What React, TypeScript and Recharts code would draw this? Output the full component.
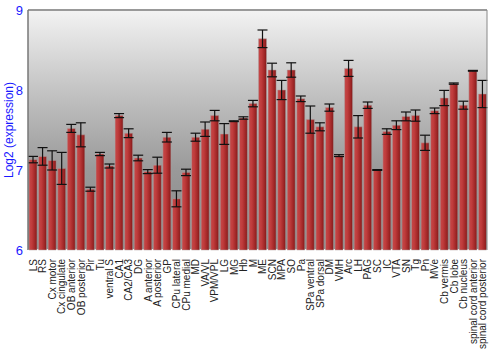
import {
  Bar,
  BarChart,
  CartesianGrid,
  ErrorBar,
  ReferenceLine,
  XAxis,
  YAxis,
} from "recharts";

const regions = [
  "LS", "RS", "Cx motor", "Cx cingulate", "OB anterior", "OB posterior", "Pir", "Tu",
  "ventral S", "CA1", "CA2/CA3", "DG", "A anterior", "A posterior", "GP", "CPu lateral",
  "CPu medial", "MD", "VA/VL", "VPM/VPL", "LG", "MG", "Hb", "M",
  "ME", "SCN", "MPA", "SO", "Pa", "SPa ventral", "SPa dorsal", "DM",
  "VMH", "Arc", "LH", "PAG", "SC", "IC", "VTA", "SN",
  "Tg", "Pn", "MVe", "Cb vermis", "Cb lobe", "Cb nucleus", "spinal cord anterior", "spinal cord posterior",
];

const expression = [
  7.13, 7.17, 7.12, 7.02, 7.52, 7.44, 6.76, 7.2,
  7.05, 7.68, 7.46, 7.15, 6.98, 7.06, 7.41, 6.64,
  6.97, 7.41, 7.51, 7.68, 7.45, 7.61, 7.65, 7.83,
  8.64, 8.25, 8.0, 8.25, 7.89, 7.63, 7.54, 7.78,
  7.18, 8.27, 7.54, 7.81, 7.0, 7.48, 7.56, 7.67,
  7.68, 7.34, 7.74, 7.9, 8.08, 7.81, 8.24, 7.95,
];

const stdErr = [
  0.04, 0.11, 0.12, 0.2, 0.05, 0.15, 0.025, 0.02,
  0.025, 0.025, 0.055, 0.035, 0.025, 0.1, 0.06, 0.1,
  0.04, 0.05, 0.09, 0.065, 0.13, 0.005, 0.015, 0.04,
  0.11, 0.085, 0.12, 0.09, 0.035, 0.17, 0.05, 0.045,
  0.012, 0.1, 0.14, 0.04, 0.005, 0.035, 0.055, 0.055,
  0.07, 0.095, 0.035, 0.095, 0.008, 0.05, 0.005, 0.17,
];

const yTicks = [6, 7, 8, 9];

const data = regions.map((name, i) => ({
  name,
  value: expression[i],
  err: stdErr[i],
}));

const font = "'Liberation Sans', Arial, sans-serif";
const blue = "#1a1aff";

function RegionTick(props: any) {
  const { x, y, payload } = props;
  return (
    <text
      x={0}
      y={0}
      transform={`translate(${x + 4},${y + 1}) rotate(-90)`}
      textAnchor="end"
      fontSize={10}
      fontFamily={font}
      fill="#222"
    >
      {payload.value}
    </text>
  );
}

function AxisTitle(props: any) {
  const vb = props.viewBox || {};
  const cy = (vb.y ?? 10) + (vb.height ?? 240) / 2;
  return (
    <text
      x={0}
      y={0}
      transform={`translate(13,${cy}) rotate(-90)`}
      textAnchor="middle"
      fontSize={12}
      fontFamily={font}
      fill={blue}
    >
      Log2 (expression)
    </text>
  );
}

export default function App() {
  return (
    <div style={{ position: "absolute", left: 0, top: 0 }}>
      <BarChart
        width={500}
        height={350}
        data={data}
        margin={{ top: 10, right: 0, bottom: 0, left: 0 }}
        barCategoryGap={1}
      >
        <defs>
          <linearGradient id="bg" x1="0" y1="0" x2="0" y2="1">
            <stop offset="0%" stopColor="#f3f3f3" />
            <stop offset="33%" stopColor="#c4c4c4" />
            <stop offset="66%" stopColor="#9a9a9a" />
            <stop offset="100%" stopColor="#888888" />
          </linearGradient>
          <linearGradient id="bar" x1="0" y1="0" x2="1" y2="0">
            <stop offset="0%" stopColor="#c44848" />
            <stop offset="35%" stopColor="#c03c3c" />
            <stop offset="80%" stopColor="#9c2424" />
            <stop offset="100%" stopColor="#7c1818" />
          </linearGradient>
        </defs>
        <CartesianGrid
          vertical={false}
          stroke="#ffffff"
          strokeWidth={2}
          fill="url(#bg)"
          fillOpacity={1}
        />
        <ReferenceLine yAxisId="left" y={9} stroke="#777" strokeWidth={1.5} />
        <XAxis
          dataKey="name"
          interval={0}
          height={100}
          tick={<RegionTick />}
          tickLine={false}
          axisLine={false}
        />
        <YAxis
          yAxisId="left"
          domain={[6, 9]}
          ticks={yTicks}
          width={28}
          tickSize={0}
          tickMargin={5}
          axisLine={{ stroke: "#777", strokeWidth: 1.5 }}
          tick={{ fill: blue, fontSize: 13, fontFamily: font }}
          label={{ content: <AxisTitle /> }}
        />
        <YAxis
          yAxisId="right"
          orientation="right"
          domain={[6, 9]}
          ticks={yTicks}
          width={13}
          tickSize={3}
          tickMargin={1}
          axisLine={{ stroke: "#888" }}
          tickLine={{ stroke: "#888" }}
          tick={{ fill: blue, fontSize: 13, fontFamily: font }}
        />
        <Bar
          yAxisId="left"
          dataKey="value"
          fill="url(#bar)"
          stroke="#b0a0a0"
          strokeWidth={0.5}
          isAnimationActive={false}
        >
          <ErrorBar dataKey="err" width={5} stroke="#111" strokeWidth={1.2} />
        </Bar>
      </BarChart>
    </div>
  );
}
